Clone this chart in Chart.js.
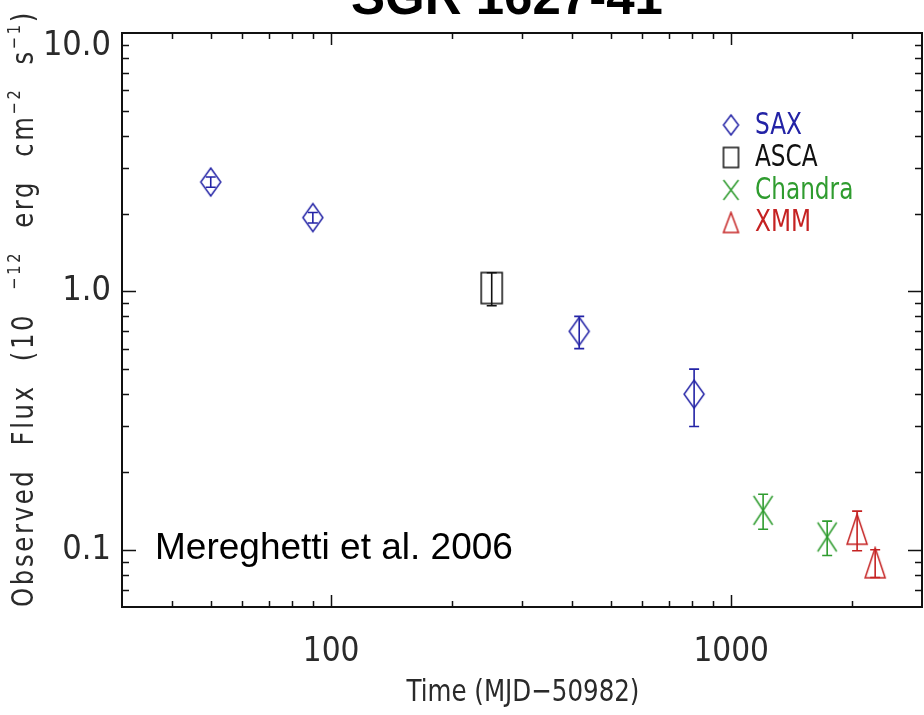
<!DOCTYPE html>
<html>
<head>
<meta charset="utf-8">
<title>SGR 1627-41</title>
<script src="https://cdn.jsdelivr.net/npm/chart.js@4.4.1/dist/chart.umd.min.js"></script>
<style>
    html, body { margin: 0; padding: 0; background: #fff; }
    #wrap { position: relative; width: 924px; height: 715px; }
</style>
</head>
<body>
<div id="wrap"><canvas id="fluxChart" width="924" height="715"></canvas></div>
<script>
const saxTime = [50, 90, 417, 808];
const saxFlux = [2.65, 1.93, 0.70, 0.40];
const saxErr = [0.12, 0.09, 0.10, 0.10];

const ascaTime = [252];
const ascaFlux = [1.03];
const ascaErr = [0.15];

const chandraTime = [1202, 1738];
const chandraFlux = [0.142, 0.112];
const chandraErr = [0.022, 0.017];

const xmmTime = [2065, 2291];
const xmmFlux = [0.120, 0.089];
const xmmErr = [0.021, 0.011];

const xTickValues = [100, 1000];
const xTickLabels = ["100", "1000"];
const yTickValues = [0.1, 1, 10];
const yTickLabels = ["0.1", "1.0", "10.0"];
const instruments = ["SAX", "ASCA", "Chandra", "XMM"];

const colors = { SAX: "#2323a6", ASCA: "#111111", Chandra: "#2f9c2f", XMM: "#c52222" };
const shapes = { SAX: "diamond", ASCA: "square", Chandra: "cross", XMM: "triangle" };
const thinFont = '"DejaVu Sans Condensed", "Liberation Sans", sans-serif';
const inkColor = "#2a2a2a";

function makeMarker(shape, color, w, h) {
    const c = document.createElement("canvas");
    c.width = w + 4;
    c.height = h + 4;
    const g = c.getContext("2d");
    g.strokeStyle = color;
    g.lineWidth = 1.5;
    g.translate(2, 2);
    g.beginPath();
    if (shape === "diamond") {
        g.moveTo(w / 2, 0); g.lineTo(w, h / 2); g.lineTo(w / 2, h); g.lineTo(0, h / 2); g.closePath();
    } else if (shape === "square") {
        g.rect(0, 0, w, h);
    } else if (shape === "cross") {
        g.moveTo(0, 0); g.lineTo(w, h); g.moveTo(w, 0); g.lineTo(0, h);
    } else {
        g.moveTo(w / 2, 0); g.lineTo(w, h); g.lineTo(0, h); g.closePath();
    }
    g.stroke();
    return c;
}

const markerSize = { diamond: [20, 28], square: [21, 31], cross: [19, 29], triangle: [20, 30] };

function makeDataset(name, times, flux, errs) {
    const [w, h] = markerSize[shapes[name]];
    return {
        label: name,
        data: times.map((t, i) => ({ x: t, y: flux[i] })),
        errors: errs,
        errColor: colors[name],
        pointStyle: makeMarker(shapes[name], colors[name], w, h),
        pointRadius: 10,
        showLine: false
    };
}

// squeezed text, the original uses a narrow vector font
function fillNarrow(ctx, text, x, y, sx) {
    ctx.save();
    ctx.translate(x, y);
    ctx.scale(sx, 1);
    ctx.fillText(text, 0, 0);
    ctx.restore();
}

const framePlugin = {
    id: "frame",
    afterDraw(chart) {
        const { ctx, chartArea: a, scales: { x, y } } = chart;
        ctx.save();
        ctx.strokeStyle = "#111";
        ctx.lineWidth = 1.5;
        ctx.beginPath();
        for (let dec = 10; dec <= 1000; dec *= 10) {
            for (let m = 1; m < 10; m++) {
                const v = dec * m;
                if (v <= x.min || v >= x.max) continue;
                const px = Math.round(x.getPixelForValue(v)) + 0.5;
                const len = m === 1 ? 12 : 6;
                ctx.moveTo(px, a.bottom); ctx.lineTo(px, a.bottom - len);
                ctx.moveTo(px, a.top); ctx.lineTo(px, a.top + len);
            }
        }
        for (let dec = 0.01; dec <= 1.01; dec *= 10) {
            for (let m = 1; m < 10; m++) {
                const v = dec * m;
                if (v <= y.min || v >= y.max) continue;
                const py = Math.round(y.getPixelForValue(v)) + 0.5;
                const len = m === 1 ? 14 : 7;
                ctx.moveTo(a.left, py); ctx.lineTo(a.left + len, py);
                ctx.moveTo(a.right, py); ctx.lineTo(a.right - len, py);
            }
        }
        ctx.stroke();
        ctx.lineWidth = 2;
        ctx.strokeRect(a.left, a.top, a.right - a.left, a.bottom - a.top);
        ctx.restore();
    }
};

const errorBarPlugin = {
    id: "errorBars",
    afterDatasetsDraw(chart) {
        const { ctx, scales: { x, y } } = chart;
        chart.data.datasets.forEach(ds => {
            ctx.save();
            ctx.strokeStyle = ds.errColor;
            ctx.lineWidth = 1.6;
            ds.data.forEach((p, i) => {
                const px = x.getPixelForValue(p.x);
                const top = y.getPixelForValue(p.y + ds.errors[i]);
                const bot = y.getPixelForValue(p.y - ds.errors[i]);
                ctx.beginPath();
                ctx.moveTo(px, top); ctx.lineTo(px, bot);
                ctx.moveTo(px - 5, top); ctx.lineTo(px + 5, top);
                ctx.moveTo(px - 5, bot); ctx.lineTo(px + 5, bot);
                ctx.stroke();
            });
            ctx.restore();
        });
    }
};

// pieces of the y axis title, raised ones are superscripts
const yTitleParts = [
    ["Observed Flux (10 ", false], ["\u221212", true], [" erg cm", false],
    ["\u22122", true], [" s", false], ["\u22121", true], [")", false]
];

const textPlugin = {
    id: "texts",
    afterDraw(chart) {
        const ctx = chart.ctx;
        ctx.save();
        ctx.fillStyle = "#000";
        ctx.textBaseline = "alphabetic";

        ctx.font = "bold 51px 'Liberation Sans', Arial, sans-serif";
        ctx.textAlign = "center";
        ctx.fillText("SGR 1627-41", 507, 14);

        ctx.font = "37px 'Liberation Sans', Arial, sans-serif";
        ctx.textAlign = "left";
        ctx.fillText("Mereghetti et al. 2006", 155, 559);

        // x axis title
        ctx.fillStyle = inkColor;
        ctx.font = "31px " + thinFont;
        ctx.textAlign = "center";
        fillNarrow(ctx, "Time (MJD\u221250982)", 523, 701, 0.88);

        // y axis title, drawn bottom to top
        ctx.save();
        ctx.translate(33, 607);
        ctx.rotate(-Math.PI / 2);
        ctx.scale(0.9, 1);
        ctx.textAlign = "left";
        ctx.wordSpacing = "14px";
        ctx.letterSpacing = "3px";
        let cx = 0;
        yTitleParts.forEach(([txt, sup]) => {
            ctx.font = (sup ? "18px " : "30px ") + thinFont;
            ctx.fillText(txt, cx, sup ? -13 : 0);
            cx += ctx.measureText(txt).width;
        });
        ctx.restore();

        // legend
        ctx.textAlign = "left";
        ctx.textBaseline = "middle";
        ctx.font = "30px " + thinFont;
        instruments.forEach((name, i) => {
            const yy = 125 + i * 32.5;
            const m = makeMarker(shapes[name], colors[name], 15, 20);
            ctx.drawImage(m, 731 - m.width / 2, yy - m.height / 2);
            ctx.fillStyle = colors[name];
            fillNarrow(ctx, name, 755, yy + 1, 0.86);
        });
        ctx.restore();
    }
};

const ctx = document.getElementById("fluxChart").getContext("2d");
new Chart(ctx, {
    type: "scatter",
    data: {
        datasets: [
            makeDataset("SAX", saxTime, saxFlux, saxErr),
            makeDataset("ASCA", ascaTime, ascaFlux, ascaErr),
            makeDataset("Chandra", chandraTime, chandraFlux, chandraErr),
            makeDataset("XMM", xmmTime, xmmFlux, xmmErr)
        ]
    },
    options: {
        responsive: false,
        animation: false,
        layout: { autoPadding: false, padding: { top: 33, right: 2, left: 0, bottom: 0 } },
        plugins: { legend: { display: false }, tooltip: { enabled: false } },
        scales: {
            x: {
                type: "logarithmic",
                min: 30,
                max: 3000,
                grid: { display: false },
                border: { display: false },
                afterFit: s => { s.height = 108; },
                afterBuildTicks: s => { s.ticks = xTickValues.map(v => ({ value: v })); },
                ticks: {
                    autoSkip: false,
                    maxRotation: 0,
                    padding: 18,
                    color: inkColor,
                    font: { family: thinFont, size: 33 },
                    callback: (v, i) => xTickLabels[i]
                }
            },
            y: {
                type: "logarithmic",
                min: 0.06,
                max: 10,
                grid: { display: false },
                border: { display: false },
                afterFit: s => { s.width = 122; },
                afterBuildTicks: s => { s.ticks = yTickValues.map(v => ({ value: v })); },
                ticks: {
                    autoSkip: false,
                    padding: 3,
                    color: inkColor,
                    font: { family: thinFont, size: 34, lineHeight: 0.78 },
                    // top label sits a little below its tick, as in the original
                    callback: (v, i) => (i === yTickLabels.length - 1 ? ["", yTickLabels[i]] : yTickLabels[i])
                }
            }
        }
    },
    plugins: [framePlugin, errorBarPlugin, textPlugin]
});
</script>
</body>
</html>
